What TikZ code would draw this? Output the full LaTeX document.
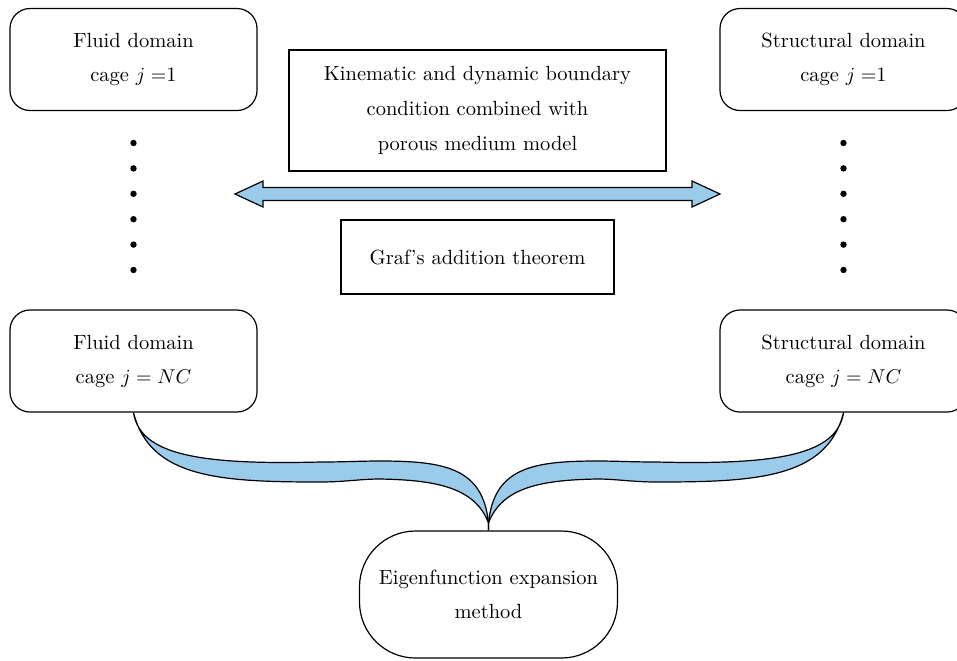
\documentclass[tikz,border=0pt]{standalone}
\usepackage{tikz}
\usetikzlibrary{positioning,calc}
\definecolor{BandBlue}{HTML}{9BCBEB}

\begin{document}
\begin{tikzpicture}[x=0.5pt,y=-0.5pt,font=\fontsize{10.25pt}{12.3pt}\selectfont,
      cagebox/.style={draw,line width=0.6pt,rounded corners=10pt,
                     minimum width=123.5pt,minimum height=51pt,
                     align=center,inner sep=0pt},
      cond/.style={draw,line width=0.6pt,align=center,inner sep=0pt},
      band/.style={draw,line width=0.6pt,fill=BandBlue},
    ]
    \useasboundingbox (0,0) rectangle (957,660);

    \node[cagebox] (fluidA)  at (133.5,59.5) {Fluid domain\\[4.7pt] cage $j=$1};
    \node[cagebox] (structA) at (843.5,59.5) {Structural domain\\[4.7pt] cage $j=$1};
    \node[cagebox] (fluidB)  at (133.5,361)  {Fluid domain\\[4.7pt] cage $j=NC$};
    \node[cagebox] (structB) at (843.5,361)  {Structural domain\\[4.7pt] cage $j=NC$};

    \node[cond,minimum width=188.5pt,minimum height=60.5pt] (kin) at (477.5,110.5)
         {Kinematic and dynamic boundary\\[5.2pt] condition combined with\\[5.2pt] porous medium model};
    \node[cond,minimum width=136.5pt,minimum height=37pt] (graf) at (477.5,257)
         {Graf's addition theorem};

    \node[draw,line width=0.6pt,rounded corners=28pt,minimum width=129pt,
          minimum height=63.5pt,align=center,inner sep=0pt] (eigen) at (488.5,594.5)
         {Eigenfunction expansion\\[4.7pt] method};

    % vertical dots between the cages
    \foreach \k in {0,...,5} {
      \fill (133.5,143+25.4*\k) circle (1.6pt);
      \fill (843.5,143+25.4*\k) circle (1.6pt);
    }

    % coupling arrow
    \draw[band] (235,194) -- (263,181) -- (263,187.5) -- (692,187.5) -- (692,181)
         -- (720,194) -- (692,207) -- (692,200.5) -- (263,200.5) -- (263,207) -- cycle;

    % brace joining the last cages to the method
    \draw[band] (fluidB.south) .. controls (140,455) and (200,465) .. (320,462)
         .. controls (345,462) and (360,461) .. (380,461)
         .. controls (445,461) and (483,468) .. (488.5,523) -- (eigen.north) -- (488.5,523)
         .. controls (475,487) and (435,480) .. (380,479)
         .. controls (360,479) and (345,482) .. (320,482)
         .. controls (220,482) and (150,478) .. (fluidB.south) -- cycle;
    \draw[band] (structB.south) .. controls (837,455) and (777,465) .. (657,462)
         .. controls (632,462) and (617,461) .. (597,461)
         .. controls (532,461) and (494,468) .. (488.5,523) -- (eigen.north) -- (488.5,523)
         .. controls (502,487) and (542,480) .. (597,479)
         .. controls (617,479) and (632,482) .. (657,482)
         .. controls (757,482) and (827,478) .. (structB.south) -- cycle;
  \end{tikzpicture}
\end{document}
